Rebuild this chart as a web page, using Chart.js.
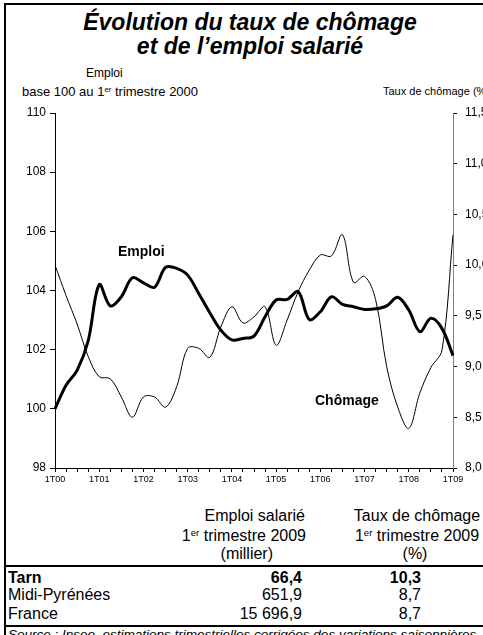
<!DOCTYPE html>
<html lang="fr">
<head>
  <meta charset="UTF-8" />
  <title>Évolution du taux de chômage et de l'emploi salarié</title>
  <style>
    body {
      margin: 0;
      width: 483px;
      height: 635px;
      overflow: hidden;
      background: #fff;
      font-family: 'Liberation Sans', Arial, sans-serif;
      color: #000;
    }
    .frame {
      position: absolute;
      left: 4px;
      top: 3px;
      width: 500px;
      height: 700px;
      border-left: 2px solid #000;
      border-top: 2px solid #000;
    }
    .txt {
      position: absolute;
      white-space: nowrap;
      line-height: 1;
    }
    .tab { font-size: 16px; }
    .title {
      position: absolute;
      left: 0;
      width: 500px;
      top: 10px;
      text-align: center;
      font-size: 23px;
      line-height: 24px;
      font-weight: bold;
      font-style: italic;
    }
    .hline {
      position: absolute;
      left: 4px;
      width: 500px;
      height: 2px;
      background: #000;
    }
    sup {
      font-size: 0.6em;
      vertical-align: 0.55em;
      line-height: 0;
    }
    #chartBox {
      position: absolute;
      left: 0;
      top: 0;
      width: 483px;
      height: 500px;
    }
  </style>
</head>
<body>
  <div class="frame"></div>

  <div class="title">Évolution du taux de chômage<br>et de l’emploi salarié</div>

  <div class="txt" style="left:86px; top:67px; font-size:12px">Emploi</div>
  <div class="txt" style="left:22px; top:85px; font-size:13px">base 100 au 1<sup>er</sup> trimestre 2000</div>
  <div class="txt" style="left:383px; top:86px; font-size:11px">Taux de chômage (%)</div>

  <div id="chartBox"><canvas id="chart"></canvas></div>

  <div class="txt" style="left:118px; top:244px; font-size:14px; font-weight:bold">Emploi</div>
  <div class="txt" style="left:315px; top:393px; font-size:14px; font-weight:bold">Chômage</div>

  <!-- tableau -->
  <div class="txt tab" style="left:150px; width:155px; text-align:right; top:508px">Emploi salarié</div>
  <div class="txt tab" style="left:150px; width:156px; text-align:right; top:528px">1<sup>er</sup> trimestre 2009</div>
  <div class="txt tab" style="left:150px; width:123px; text-align:right; top:546px">(millier)</div>
  <div class="txt tab" style="left:342px; width:150px; text-align:center; top:508px">Taux de chômage</div>
  <div class="txt tab" style="left:342px; width:150px; text-align:center; top:528px">1<sup>er</sup> trimestre 2009</div>
  <div class="txt tab" style="left:340px; width:150px; text-align:center; top:546px">(%)</div>

  <div class="hline" style="top:565px"></div>

  <div class="txt tab" style="left:8px; top:570px; font-weight:bold">Tarn</div>
  <div class="txt tab" style="left:150px; width:152px; text-align:right; top:570px; font-weight:bold">66,4</div>
  <div class="txt tab" style="left:330px; width:91px; text-align:right; top:570px; font-weight:bold">10,3</div>

  <div class="txt tab" style="left:8px; top:587px">Midi-Pyrénées</div>
  <div class="txt tab" style="left:150px; width:152px; text-align:right; top:587px">651,9</div>
  <div class="txt tab" style="left:330px; width:91px; text-align:right; top:587px">8,7</div>

  <div class="txt tab" style="left:8px; top:606px">France</div>
  <div class="txt tab" style="left:150px; width:152px; text-align:right; top:606px">15 696,9</div>
  <div class="txt tab" style="left:330px; width:91px; text-align:right; top:606px">8,7</div>

  <div class="hline" style="top:625px"></div>

  <div class="txt" style="left:8px; top:628px; font-size:13.5px; font-style:italic">Source : Insee, estimations trimestrielles corrigées des variations saisonnières</div>

  <script src="https://cdn.jsdelivr.net/npm/chart.js"></script>
  <script>
    // trimestres 1T00 .. 1T09
    const quarters = [];
    for (let y = 0; y <= 9; y++) {
      for (let q = 1; q <= 4; q++) {
        if (y === 9 && q > 1) break;
        quarters.push(q + 'T0' + y);
      }
    }

    // emploi salarié, base 100 au 1er trimestre 2000
    const emploi = [100.0, 100.8, 101.3, 102.3, 104.2, 103.48, 103.79, 104.43, 104.26, 104.11,
                    104.78, 104.75, 104.52, 103.9, 103.25, 102.66, 102.33, 102.38, 102.46, 103.11,
                    103.68, 103.7, 103.96, 103.02, 103.28, 103.79, 103.53, 103.45, 103.36, 103.38,
                    103.48, 103.77, 103.34, 102.61, 103.06, 102.72, 101.8];

    // taux de chômage (%)
    const chomage = [10.0, 9.7, 9.42, 9.1, 8.9, 8.88, 8.7, 8.5, 8.7, 8.7,
                     8.6, 8.8, 9.18, 9.18, 9.09, 9.39, 9.59, 9.43, 9.49, 9.59,
                     9.21, 9.46, 9.74, 9.95, 10.1, 10.09, 10.3, 9.83, 9.89, 9.66,
                     9.0, 8.6, 8.39, 8.74, 8.99, 9.16, 10.3];

    const leftTicks = { min: 98, max: 110, step: 2 };
    const rightTicks = { min: 8, max: 11.5, step: 0.5 };

    const ctx = document.getElementById('chart').getContext('2d');
    Chart.defaults.font.family = "'Liberation Sans', Arial, sans-serif";
    Chart.defaults.color = '#000';

    new Chart(ctx, {
      type: 'line',
      data: {
        labels: quarters,
        datasets: [
          {
            label: 'Emploi',
            data: emploi,
            yAxisID: 'y',
            borderColor: '#000',
            borderWidth: 3,
            pointRadius: 0,
            tension: 0.35
          },
          {
            label: 'Chômage',
            data: chomage,
            yAxisID: 'y1',
            borderColor: '#000',
            borderWidth: 1,
            pointRadius: 0,
            tension: 0.35
          }
        ]
      },
      options: {
        responsive: true,
        maintainAspectRatio: false,
        animation: false,
        layout: { padding: { top: 113, left: 0, right: 0, bottom: 0 } },
        plugins: {
          legend: { display: false },
          tooltip: { enabled: false }
        },
        scales: {
          x: {
            offset: false,
            afterFit(scale) { scale.height = 32; },
            border: { color: '#000', width: 1 },
            grid: { drawOnChartArea: false, color: '#000', tickLength: 4 },
            ticks: {
              autoSkip: false,
              maxRotation: 0,
              padding: 2,
              font: { size: 9 },
              callback(v, i) { return i % 4 === 0 ? quarters[i] : ''; }
            }
          },
          y: {
            position: 'left',
            min: leftTicks.min,
            max: leftTicks.max,
            afterFit(scale) { scale.width = 55; },
            border: { color: '#000', width: 1 },
            grid: { drawOnChartArea: false, color: '#000', tickLength: 5 },
            ticks: { stepSize: leftTicks.step, padding: 4, font: { size: 12 } }
          },
          y1: {
            position: 'right',
            min: rightTicks.min,
            max: rightTicks.max,
            afterFit(scale) { scale.width = 30; },
            border: { color: '#808080', width: 1 },
            grid: { drawOnChartArea: false, color: '#000', tickLength: 4 },
            ticks: {
              stepSize: rightTicks.step,
              padding: 8,
              font: { size: 12 },
              callback(v) { return v.toFixed(1).replace('.', ','); }
            }
          }
        }
      }
    });
  </script>
</body>
</html>
